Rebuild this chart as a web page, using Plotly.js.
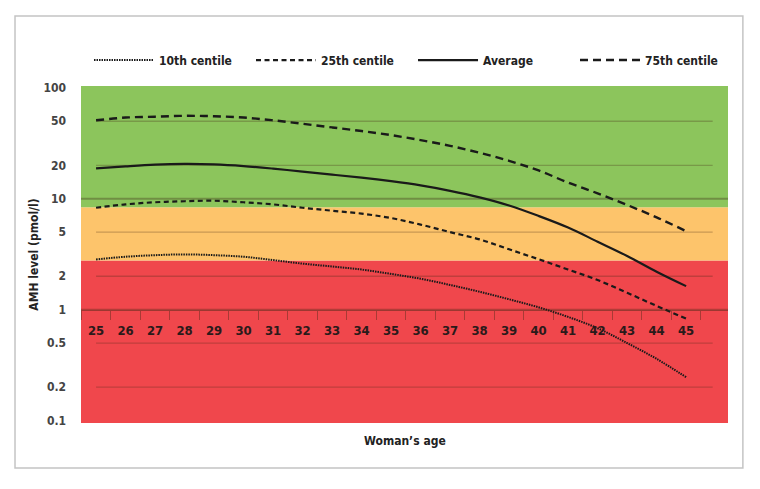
<!DOCTYPE html>
<html>
<head>
<meta charset="utf-8">
<script src="https://cdn.plot.ly/plotly-3.0.1.min.js"></script>
<style>html,body{margin:0;padding:0;background:#fff;}#chart{width:760px;height:489px;}</style>
</head>
<body>
<div id="chart"></div>
<script>
// ---- data ----
const ages = [25,26,27,28,29,30,31,32,33,34,35,36,37,38,39,40,41,42,43,44,45];
const centile10 = [2.84,3.0,3.1,3.15,3.1,3.0,2.8,2.6,2.45,2.3,2.1,1.9,1.67,1.45,1.24,1.05,0.86,0.68,0.5,0.36,0.246];
const centile25 = [8.3,8.9,9.3,9.5,9.6,9.3,8.9,8.3,7.8,7.35,6.7,5.85,5.0,4.3,3.5,2.85,2.3,1.85,1.42,1.08,0.83];
const average   = [18.8,19.6,20.3,20.6,20.4,19.7,18.7,17.6,16.5,15.5,14.4,13.2,11.8,10.3,8.7,7.0,5.5,4.1,3.05,2.2,1.63];
const centile75 = [51,54,55,56,55.5,54,51,47.5,44,40.8,37.5,33.8,30,26,22,18,14,11.2,8.8,6.8,5.1];
const seriesNames = ['10th centile','25th centile','Average','75th centile'];
const yTickVals = [0.1,0.2,0.5,1,2,5,10,20,50,100];
const yTickText = ['0.1','0.2','0.5','1','2','5','10','20','50','100'];
const bandEdges = [0.05, 2.78, 8.4, 200];   // red / orange / green zones
const bandColors = ['#f0474c','#fdc46b','#8cc55c'];

const font = '"DejaVu Sans Condensed","DejaVu Sans",sans-serif';

const traces = [
  {x: ages, y: centile10, name: seriesNames[0], mode:'lines', line:{color:'#1a1a1a', width:2, dash:'1.5px,1px', shape:'spline'}},
  {x: ages, y: centile25, name: seriesNames[1], mode:'lines', line:{color:'#1a1a1a', width:2.2, dash:'5px,3.5px', shape:'spline'}},
  {x: ages, y: average,   name: seriesNames[2], mode:'lines', line:{color:'#1a1a1a', width:2.2, shape:'spline'}},
  {x: ages, y: centile75, name: seriesNames[3], mode:'lines', line:{color:'#1a1a1a', width:2.4, dash:'8px,5px', shape:'spline'}}
];

const shapes = [];
for (let i = 0; i < bandColors.length; i++) {
  shapes.push({type:'rect', xref:'paper', yref:'y', x0:0, x1:1, y0:bandEdges[i], y1:bandEdges[i+1],
               fillcolor:bandColors[i], line:{width:0}, layer:'below'});
}
yTickVals.forEach(v => {
  if (v === 0.1 || v === 100) return;
  if (v === 1 || v === 10) {
    shapes.push({type:'line', xref:'paper', yref:'y', x0:0, x1:1, y0:v, y1:v,
                 line:{color:'rgba(60,40,20,0.35)', width:1.8}, layer:'below'});
  } else {
    shapes.push({type:'line', xref:'x', yref:'y', x0:ages[0], x1:45.9, y0:v, y1:v,
                 line:{color:'rgba(70,40,20,0.28)', width:1.3}, layer:'below'});
  }
});
// outer frame
shapes.push({type:'rect', xref:'paper', yref:'paper', x0:-0.102, x1:1.023, y0:-0.1335, y1:1.208,
             line:{color:'#c4c4c4', width:1.5}, fillcolor:'rgba(0,0,0,0)', layer:'below'});

const layout = {
  width:760, height:489,
  margin:{l:81, r:32, t:86, b:66},
  paper_bgcolor:'#fff', plot_bgcolor:'rgba(0,0,0,0)',
  font:{family:font, color:'#333', weight:'bold'},
  showlegend:true,
  legend:{orientation:'h', x:0.0124, xanchor:'left', y:1.077, yanchor:'middle',
          font:{family:font, size:12, color:'#222', weight:'bold'}, itemwidth:60, entrywidth:87, entrywidthmode:'pixels',
          bgcolor:'rgba(0,0,0,0)', traceorder:'normal'},
  xaxis:{type:'linear', range:[24.49, 46.42], tickmode:'array', tickvals:ages, ticktext:ages.map(String),
         ticks:'', showgrid:false, zeroline:false, anchor:'free', position:0.335,
         showline:true, linecolor:'rgba(60,40,20,0.35)', linewidth:1,
         tickfont:{family:font, size:13, color:'#2a1a1a', weight:'bold'}, ticklabelstandoff:8,
         minor:{tick0:24.5, dtick:1, ticks:'outside', ticklen:9, tickwidth:1, tickcolor:'rgba(60,40,20,0.4)', showgrid:false},
         fixedrange:true},
  yaxis:{type:'log', range:[Math.log10(0.095), Math.log10(104)], tickmode:'array', tickvals:yTickVals, ticktext:yTickText,
         ticks:'', showgrid:false, zeroline:false, showline:false, ticklabelstandoff:14,
         tickfont:{family:font, size:12, color:'#444', weight:'bold'},
         title:{text:'AMH level (pmol/l)', font:{family:font, size:12, color:'#222', weight:'bold'}, standoff:2}},
  shapes: shapes,
  annotations:[{text:'Woman’s age', xref:'paper', yref:'paper', x:0.5, y:-0.053, xanchor:'center', yanchor:'middle',
                showarrow:false, font:{family:font, size:12, color:'#222', weight:'bold'}}]
};

Plotly.newPlot('chart', traces, layout, {displayModeBar:false, staticPlot:true});
</script>
</body>
</html>
